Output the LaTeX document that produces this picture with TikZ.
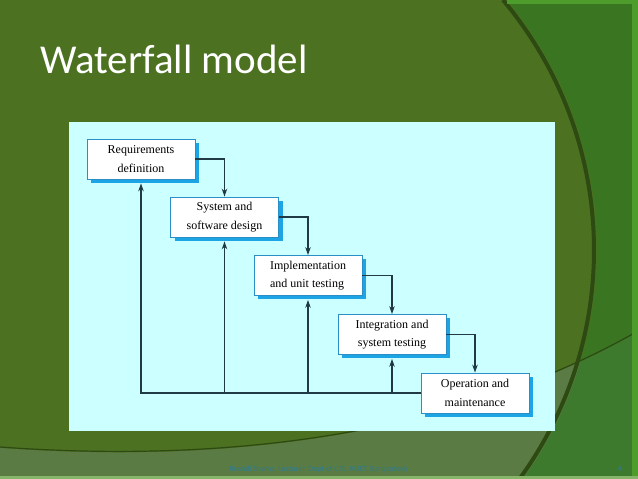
\documentclass[tikz,border=0pt]{standalone}
\usepackage{fontspec}
\setmainfont{Liberation Serif}
\newfontfamily\slidefont{Carlito}
\usepackage{tikz}
\usetikzlibrary{arrows.meta}
\usetikzlibrary{shadows}
\usepackage{xcolor}
\definecolor{bgolive}{HTML}{4C7120}
\definecolor{bgdark}{HTML}{3A7622}
\definecolor{bglow}{HTML}{5A7B44}
\definecolor{bglowdark}{HTML}{3E7A2E}
\definecolor{edgeshade}{HTML}{2D4A12}
\definecolor{framegreen}{HTML}{4E9C2C}
\definecolor{stripgreen}{HTML}{86B468}
\definecolor{panel}{HTML}{CCFFFF}
\definecolor{boxline}{HTML}{2A8FC6}
\definecolor{boxshadow}{HTML}{1CA4E4}
\definecolor{wire}{HTML}{1F3A44}
\definecolor{footer}{HTML}{2F7C8E}

\begin{document}
\begin{tikzpicture}[x=1pt,y=1pt]
   \tikzstyle{phase} = [draw=boxline,fill=white,line width=.8pt,
     minimum width=108pt,minimum height=40pt,align=center,inner sep=2pt,
     font=\fontsize{12}{18.5}\selectfont,
     drop shadow={shadow xshift=4pt,shadow yshift=-4pt,fill=boxshadow,
       opacity=1}]
   \tikzstyle{Down} = [draw=wire,line width=1.2pt,
     -{Stealth[length=8pt,width=5.5pt]}]
   \tikzstyle{Up} = [Down,shorten >=4pt]
   \useasboundingbox (0,0) rectangle (638,479);
    %% slide background
    \begin{scope}
      \clip (0,0) rectangle (638,479);
      \fill[bgolive] (0,0) rectangle (638,479);
      \fill[bglow] (0,-5) -- (0,31) .. controls (220,15) and (450,40) ..
        (638,147) -- (638,-5) -- cycle;
      \fill[bgdark] (205,229) ++(40:392)
        arc[start angle=40,end angle=-37,radius=392]
        -- (650,-10) -- (650,490) -- cycle;
      \begin{scope}
        \clip (0,-5) -- (0,31) .. controls (220,15) and (450,40) ..
          (638,147) -- (638,-5) -- cycle;
        \fill[bglowdark] (205,229) ++(40:392)
          arc[start angle=40,end angle=-37,radius=392]
          -- (650,-10) -- (650,490) -- cycle;
      \end{scope}
      \draw[edgeshade,line width=4pt] (205,229) ++(40:389)
        arc[start angle=40,end angle=-37,radius=389];
      \draw[edgeshade,line width=1.2pt] (0,32) .. controls (220,16)
        and (450,41) .. (638,148);
      \fill[framegreen] (507,475) rectangle (638,479);
      \fill[framegreen] (632,0) rectangle (638,479);
      \fill[stripgreen] (0,0) rectangle (638,3);
    \end{scope}
    %%
    \node[anchor=base west,inner sep=0pt,text=white,
      font=\slidefont\fontsize{41}{41}\selectfont] (title) at (40,405)
      {Waterfall model};
    \fill[panel] (69,48) rectangle (555,357);
    %% phases
    \node[phase] (req) at (141,320) {Requirements\\definition};
    \node[phase] (design) at (224.5,262) {System and\\software design};
    \node[phase,align=left] (impl) at (308,203.5)
      {Implementation\\and unit testing};
    \node[phase] (integ) at (392,144.5) {Integration and\\system testing};
    \node[phase] (oper) at (475,86) {Operation and\\maintenance};
    %% going down
    \path[Down] (req.east) -| (design.north);
    \path[Down] (design.east) -| (impl.north);
    \path[Down] (impl.east) -| (integ.north);
    \path[Down] (integ.east) -| (oper.north);
    %% going back
    \path[Up] (oper.west) -| (req.south);
    \path[Up] (design.south |- oper.west) -- (design.south);
    \path[Up] (impl.south |- oper.west) -- (impl.south);
    \path[Up] (integ.south |- oper.west) -- (integ.south);
    %%
    \node[text=footer,font=\slidefont\fontsize{8}{8}\selectfont] (credit)
      at (318.5,10) {Rushdi Shams, Lecturer, Dept of CSE, KUET, Bangladesh};
    \node[text=footer,font=\slidefont\fontsize{8}{8}\selectfont] (pageno)
      at (620,10) {4};
  \end{tikzpicture}
\end{document}
